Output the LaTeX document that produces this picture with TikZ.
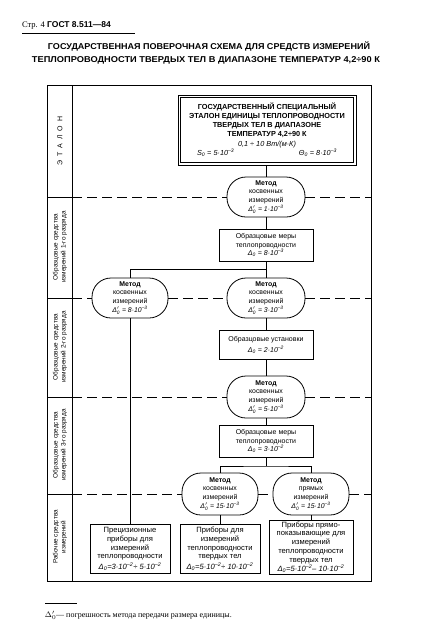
\documentclass[tikz,border=0pt]{standalone}
\usepackage{fontspec}
\usepackage{graphicx}
\setmainfont{Liberation Sans}
\newfontfamily\serifcyr{Liberation Serif}
\usetikzlibrary{calc}
\newcommand\Dz{\textit{Δ}$_{\mathit{0}}$}
\newcommand\Dzp{\textit{Δ}$'_{\mathit{0}}$}
\newcommand\ep[1]{\textsuperscript{\textit{#1}}}
\begin{document}
\begin{tikzpicture}[x=1pt,y=-1pt,
  every node/.style={inner sep=0pt,outer sep=0pt},
  lab/.style={rotate=90,align=center,font=\fontsize{6.4}{8}\selectfont},
  stbox/.style={draw,line width=0.8pt,align=center,font=\fontsize{7}{8.8}\selectfont},
  wbox/.style={draw,line width=0.8pt,align=center,font=\fontsize{7.6}{8.7}\selectfont,minimum width=80pt,minimum height=49pt},
  oval/.style={draw,line width=0.8pt,rectangle,rounded corners=19pt,align=center,minimum width=78pt,minimum height=40pt,font=\fontsize{6.9}{8.4}\selectfont},
  conn/.style={line width=0.9pt},
  dsh/.style={line width=0.6pt,dash pattern=on 10pt off 5pt},
  frame/.style={line width=1pt}]
\useasboundingbox (0,0) rectangle (423,633);
% header
\node[anchor=base west,font=\fontsize{8.5}{10}\selectfont] (hdr) at (22,27) {{\serifcyr Стр. 4} \textbf{ГОСТ 8.511—84}};
\draw[line width=1pt] (22,33) -- (135,33);
\node[font=\fontsize{8.5}{10}\selectfont\bfseries] (t1) at (209,46) {\resizebox{322pt}{\height}{ГОСУДАРСТВЕННАЯ ПОВЕРОЧНАЯ СХЕМА ДЛЯ СРЕДСТВ ИЗМЕРЕНИЙ}};
\node[font=\fontsize{8.5}{10}\selectfont\bfseries] (t2) at (206,60) {\resizebox{348pt}{\height}{ТЕПЛОПРОВОДНОСТИ ТВЕРДЫХ ТЕЛ В ДИАПАЗОНЕ ТЕМПЕРАТУР 4,2÷90 К}};
% frame
\draw[frame] (47,85) rectangle (371,581);
\draw[frame] (72,85) -- (72,581);
\foreach \yy in {197,298,397,494} {\draw[frame] (47,\yy) -- (72,\yy);}
% labels
\node[lab,font=\fontsize{7}{8}\selectfont] (l0) at (60,141) {Э\ \ Т\ \ А\ \ Л\ \ О\ \ Н};
\node[lab] (l1) at (60,247) {Образцовые средства\\измерений 1-го разряда};
\node[lab] (l2) at (60,347) {Образцовые средства\\измерений 2-го разряда};
\node[lab] (l3) at (60,445) {Образцовые средства\\измерений 3-го разряда};
\node[lab] (l4) at (60,537) {Рабочие средства\\измерений};
% etalon
\node[draw,line width=0.7pt,minimum width=178pt,minimum height=70pt,align=center,font=\fontsize{7.3}{9}\selectfont] (et) at (267,130)
 {\textbf{ГОСУДАРСТВЕННЫЙ СПЕЦИАЛЬНЫЙ}\\\textbf{ЭТАЛОН ЕДИНИЦЫ ТЕПЛОПРОВОДНОСТИ}\\\textbf{ТВЕРДЫХ ТЕЛ В ДИАПАЗОНЕ}\\\textbf{ТЕМПЕРАТУР 4,2÷90 К}\\[1pt]
 \textit{0,1 ÷ 10 Вт/(м·К)}\\
 \makebox[140pt]{\textit{S}$_{\mathit{0}}$\textit{ = 5·10}\ep{–3}\hfill\textit{Θ}$_{\mathit{0}}$\textit{ = 8·10}\ep{–3}}};
\draw[line width=0.7pt] ($(et.south west)+(2.2,-2.2)$) rectangle ($(et.north east)+(-2.2,2.2)$);
% main column
\node[oval] (m1) at (266,197) {\textbf{Метод}\\косвенных\\измерений\\[0.5pt]\Dzp\textit{ = 1·10}\ep{–3}};
\node[stbox,minimum width=94pt,minimum height=32pt] (mera1) at (266,245) {Образцовые меры\\теплопроводности\\\Dz\textit{ = 8·10}\ep{–3}};
\node[oval] (m2) at (266,298) {\textbf{Метод}\\косвенных\\измерений\\[0.5pt]\Dzp\textit{ = 3·10}\ep{–3}};
\node[oval,minimum width=76pt] (mL) at (130,298) {\textbf{Метод}\\косвенных\\измерений\\[0.5pt]\Dzp\textit{ = 8·10}\ep{–3}};
\node[stbox,minimum width=94pt,minimum height=29pt] (ust) at (266,345) {Образцовые установки\\[2pt]\Dz\textit{ = 2·10}\ep{–2}};
\node[oval,minimum height=42pt] (m3) at (266,397) {\textbf{Метод}\\косвенных\\измерений\\[0.5pt]\Dzp\textit{ = 5·10}\ep{–3}};
\node[stbox,minimum width=94pt,minimum height=32pt] (mera2) at (266,441) {Образцовые меры\\теплопроводности\\\Dz\textit{ = 3·10}\ep{–2}};
\node[oval,minimum width=76pt,minimum height=42pt] (m4) at (220,494) {\textbf{Метод}\\косвенных\\измерений\\[0.5pt]\Dzp\textit{ = 15·10}\ep{–3}};
\node[oval,minimum width=76pt,minimum height=42pt] (m5) at (311,494) {\textbf{Метод}\\прямых\\измерений\\[0.5pt]\Dzp\textit{ = 15·10}\ep{–3}};
% working instruments
\node[wbox] (b1) at (130,549) {Прецизионные\\приборы для\\измерений\\теплопроводности\\[2pt]\Dz\textit{=3·10}\ep{–2}\textit{÷ 5·10}\ep{–2}};
\node[wbox] (b2) at (220,549) {Приборы для\\измерений\\теплопроводности\\твердых тел\\[2pt]\Dz\textit{=5·10}\ep{–2}\textit{÷ 10·10}\ep{–2}};
\node[wbox,minimum width=84pt,minimum height=54pt] (b3) at (311,547) {Приборы прямо-\\показывающие для\\измерений\\теплопроводности\\твердых тел\\[0.5pt]\Dz\textit{=5·10}\ep{–2}\textit{– 10·10}\ep{–2}};
% connectors
\draw[conn] (et.south -| m1.north) -- (m1.north);
\draw[conn] (m1) -- (mera1);
\draw[conn] (mera1) -- (m2);
\coordinate (j1) at (266,269);
\draw[conn] (j1) -| (mL.north);
\draw[conn] (mL) -- (b1);
\draw[conn] (m2) -- (ust);
\draw[conn] (ust) -- (m3);
\draw[conn] (m3) -- (mera2);
\coordinate (j2) at (266,466);
\draw[conn] (mera2.south) -- (j2);
\draw[conn] (m4.north) |- (j2) -| (m5.north);
\draw[conn] (m4) -- (b2);
\draw[conn] (m5) -- (b3);
% dashed level lines
\coordinate (L1) at (72,197); \coordinate (R1) at (371,197);
\coordinate (L2) at (72,298); \coordinate (R2) at (371,298);
\coordinate (L3) at (72,397); \coordinate (R3) at (371,397);
\coordinate (L4) at (72,494); \coordinate (R4) at (371,494);
\draw[dsh] (L1) -- (m1.west); \draw[dsh] (m1.east) -- (R1);
\draw[dsh] (L2) -- (mL.west); \draw[dsh] (mL.east) -- (m2.west); \draw[dsh] (m2.east) -- (R2);
\draw[dsh] (L3) -- (m3.west); \draw[dsh] (m3.east) -- (R3);
\draw[dsh] (L4) -- (m4.west); \draw[dsh] (m4.east) -- (m5.west); \draw[dsh] (m5.east) -- (R4);
% footnote
\draw[line width=0.6pt] (45,603) -- (77,603);
\node[anchor=base west,font=\serifcyr\fontsize{8}{9}\selectfont] (fn) at (45,617) {$\Delta'_{0}$— погрешность метода передачи размера единицы.};
\end{tikzpicture}
\end{document}
